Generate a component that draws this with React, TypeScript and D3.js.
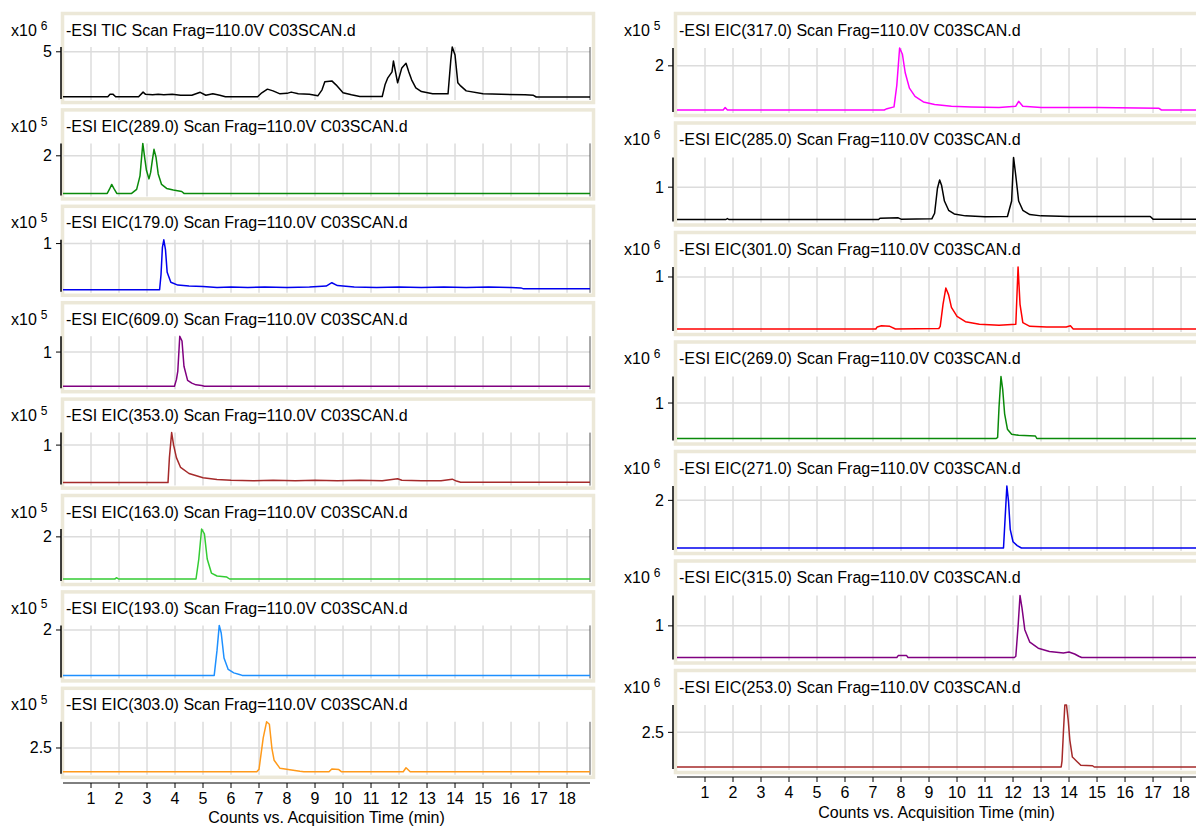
import React from "react";
import * as d3 from "d3";

const W = 1196;
const H = 828;
const FONT = '"Liberation Sans", Arial, sans-serif';
const FS = 16;
const T_MAX = 18.82;
const X_TICKS = d3.range(1, 19);
const X_TITLE = "Counts vs. Acquisition Time (min)";

// ---- traces: [time (min), intensity (x10^exp)] ----
const TIC: [number, number][] = [
  [0, 0.3], [1.6, 0.3], [1.68, 0.56], [1.78, 0.58], [1.88, 0.3], [2.7, 0.3], [2.86, 0.79],
  [2.95, 0.56], [3.2, 0.51], [3.4, 0.56], [3.6, 0.51], [3.9, 0.56], [4.2, 0.46], [4.6, 0.46],
  [4.9, 0.77], [5.1, 0.46], [5.35, 0.61], [5.6, 0.46], [5.8, 0.3], [6.95, 0.3], [7.1, 0.72],
  [7.3, 1.1], [7.5, 0.92], [7.75, 0.61], [8.0, 0.66], [8.15, 0.79], [8.4, 0.61], [8.8, 0.56],
  [9.1, 0.4], [9.25, 1.03], [9.35, 1.86], [9.6, 1.96], [9.75, 1.55], [10.0, 0.72], [10.3, 0.51],
  [10.6, 0.33], [11.4, 0.33], [11.5, 1.55], [11.6, 2.28], [11.75, 2.9], [11.8, 4.04], [11.95, 1.76],
  [12.1, 3.32], [12.25, 3.8], [12.35, 2.9], [12.45, 2.07], [12.6, 1.24], [12.8, 0.85], [13.2, 0.61],
  [13.75, 0.61], [13.85, 4.15], [13.9, 5.5], [14.0, 4.67], [14.1, 1.76], [14.2, 1.44], [14.4, 0.92],
  [15.0, 0.61], [16.5, 0.51], [16.8, 0.46], [16.9, 0.28], [18.82, 0.28],
];
const EIC289: [number, number][] = [
  [0, 0.03], [1.58, 0.03], [1.66, 0.25], [1.74, 0.5], [1.82, 0.28], [1.92, 0.03], [2.45, 0.03],
  [2.63, 0.24], [2.75, 0.95], [2.85, 2.65], [2.93, 1.76], [2.98, 1.24], [3.07, 0.79], [3.13, 1.13],
  [3.19, 1.76], [3.25, 2.34], [3.32, 1.94], [3.4, 1.05], [3.52, 0.5], [3.7, 0.29], [3.94, 0.21],
  [4.24, 0.13], [4.32, 0.03], [18.82, 0.03],
];
const EIC179: [number, number][] = [
  [0, 0.02], [3.45, 0.02], [3.5, 0.34], [3.55, 0.92], [3.6, 1.08], [3.66, 0.87], [3.72, 0.39],
  [3.85, 0.18], [4.1, 0.12], [4.5, 0.1], [5.0, 0.09], [5.5, 0.07], [6.0, 0.08], [6.6, 0.07],
  [7.2, 0.08], [8.0, 0.07], [8.8, 0.08], [9.4, 0.1], [9.6, 0.17], [9.8, 0.11], [10.4, 0.08],
  [11.2, 0.07], [12.0, 0.08], [12.8, 0.07], [13.6, 0.08], [14.4, 0.07], [15.2, 0.08], [16.0, 0.07],
  [16.35, 0.06], [16.45, 0.04], [18.82, 0.04],
];
const EIC609: [number, number][] = [
  [0, 0.01], [3.98, 0.01], [4.05, 0.2], [4.1, 0.45], [4.17, 1.46], [4.25, 1.32], [4.32, 0.59],
  [4.45, 0.18], [4.6, 0.1], [4.75, 0.05], [4.95, 0.03], [5.05, 0.01], [18.82, 0.01],
];
const EIC353: [number, number][] = [
  [0, 0.01], [3.75, 0.01], [3.8, 0.67], [3.88, 1.33], [3.95, 1.0], [4.05, 0.67], [4.2, 0.41],
  [4.5, 0.25], [5.0, 0.14], [5.5, 0.09], [6.0, 0.07], [6.8, 0.06], [7.5, 0.07], [8.3, 0.06],
  [9.0, 0.07], [9.8, 0.06], [10.6, 0.07], [11.4, 0.06], [11.95, 0.11], [12.1, 0.07], [12.8, 0.06],
  [13.5, 0.06], [13.9, 0.1], [14.05, 0.05], [14.2, 0.02], [18.82, 0.02],
];
const EIC163: [number, number][] = [
  [0, 0.02], [1.85, 0.02], [1.92, 0.08], [1.98, 0.02], [4.75, 0.02], [4.85, 0.96], [4.95, 2.37],
  [5.05, 2.14], [5.15, 0.96], [5.3, 0.3], [5.5, 0.16], [5.85, 0.11], [5.95, 0.02], [18.82, 0.02],
];
const EIC193: [number, number][] = [
  [0, 0.02], [5.4, 0.02], [5.5, 1.11], [5.58, 2.2], [5.65, 1.87], [5.75, 0.78], [5.9, 0.28],
  [6.1, 0.13], [6.3, 0.06], [6.4, 0.02], [18.82, 0.02],
];
const EIC303: [number, number][] = [
  [0, 0.02], [6.92, 0.02], [7.0, 0.28], [7.15, 3.56], [7.27, 5.23], [7.37, 4.97], [7.46, 2.47],
  [7.54, 1.22], [7.75, 0.38], [8.1, 0.23], [8.46, 0.07], [8.6, 0.02], [9.5, 0.02], [9.6, 0.31],
  [9.85, 0.25], [9.95, 0.02], [12.15, 0.02], [12.25, 0.44], [12.4, 0.02], [18.82, 0.02],
];
const EIC317: [number, number][] = [
  [0, 0.02], [1.65, 0.02], [1.72, 0.13], [1.8, 0.02], [7.4, 0.02], [7.5, 0.08], [7.75, 0.16],
  [7.85, 1.13], [7.95, 2.8], [8.05, 2.52], [8.15, 1.69], [8.3, 1.0], [8.5, 0.63], [8.8, 0.38],
  [9.2, 0.27], [9.8, 0.19], [10.5, 0.16], [11.5, 0.13], [12.1, 0.19], [12.2, 0.41], [12.35, 0.19],
  [13.0, 0.13], [15.0, 0.13], [17.2, 0.1], [17.3, 0.02], [18.82, 0.02],
];
const EIC285: [number, number][] = [
  [0, 0.02], [1.75, 0.02], [1.8, 0.05], [1.85, 0.02], [7.2, 0.02], [7.25, 0.06], [7.9, 0.07],
  [8.0, 0.03], [9.1, 0.04], [9.2, 0.21], [9.3, 0.96], [9.38, 1.22], [9.45, 1.05], [9.55, 0.58],
  [9.7, 0.3], [9.9, 0.19], [10.3, 0.13], [11.0, 0.1], [11.8, 0.11], [11.95, 0.58], [12.02, 1.9],
  [12.1, 1.34], [12.2, 0.58], [12.35, 0.3], [12.6, 0.17], [13.0, 0.13], [14.0, 0.11], [16.9, 0.11],
  [17.0, 0.03], [18.82, 0.03],
];
const EIC301: [number, number][] = [
  [0, 0.01], [7.1, 0.01], [7.15, 0.05], [7.3, 0.07], [7.6, 0.06], [7.8, 0.01], [9.35, 0.02],
  [9.4, 0.06], [9.5, 0.48], [9.6, 0.79], [9.7, 0.66], [9.8, 0.42], [10.0, 0.25], [10.3, 0.15],
  [10.8, 0.1], [11.5, 0.08], [12.1, 0.1], [12.18, 1.19], [12.25, 0.48], [12.35, 0.13], [12.6, 0.06],
  [13.2, 0.05], [13.9, 0.05], [14.05, 0.07], [14.15, 0.01], [18.82, 0.01],
];
const EIC269: [number, number][] = [
  [0, 0.01], [11.4, 0.01], [11.45, 0.04], [11.5, 0.88], [11.57, 1.74], [11.63, 1.39], [11.7, 0.7],
  [11.8, 0.27], [11.95, 0.13], [12.2, 0.1], [12.8, 0.08], [12.85, 0.01], [18.82, 0.01],
];
const EIC271: [number, number][] = [
  [0, 0.01], [11.66, 0.01], [11.72, 1.31], [11.78, 2.6], [11.84, 1.95], [11.9, 0.79], [12.0, 0.27],
  [12.15, 0.11], [12.3, 0.01], [18.82, 0.01],
];
const EIC315: [number, number][] = [
  [0, 0.01], [7.85, 0.01], [7.9, 0.07], [8.2, 0.07], [8.25, 0.01], [12.05, 0.01], [12.1, 0.05],
  [12.18, 0.98], [12.25, 1.95], [12.32, 1.56], [12.42, 0.88], [12.6, 0.49], [12.9, 0.3], [13.3, 0.2],
  [13.8, 0.15], [14.0, 0.18], [14.2, 0.12], [14.35, 0.05], [14.45, 0.01], [18.82, 0.01],
];
const EIC253: [number, number][] = [
  [0, 0.02], [13.72, 0.02], [13.75, 0.46], [13.8, 2.55], [13.85, 4.46], [13.91, 4.46], [13.97, 3.39],
  [14.03, 1.93], [14.12, 0.73], [14.3, 0.38], [14.42, 0.15], [14.84, 0.11], [14.9, 0.02], [18.82, 0.02],
];

// ---- panel labels ----
const LEFT_TITLES = [
  "-ESI TIC Scan Frag=110.0V C03SCAN.d",
  "-ESI EIC(289.0) Scan Frag=110.0V C03SCAN.d",
  "-ESI EIC(179.0) Scan Frag=110.0V C03SCAN.d",
  "-ESI EIC(609.0) Scan Frag=110.0V C03SCAN.d",
  "-ESI EIC(353.0) Scan Frag=110.0V C03SCAN.d",
  "-ESI EIC(163.0) Scan Frag=110.0V C03SCAN.d",
  "-ESI EIC(193.0) Scan Frag=110.0V C03SCAN.d",
  "-ESI EIC(303.0) Scan Frag=110.0V C03SCAN.d",
];
const LEFT_EXP = [6, 5, 5, 5, 5, 5, 5, 5];
const LEFT_TICKS = [[5], [2], [1], [1], [1], [2], [2], [2.5]];
const LEFT_SERIES = [TIC, EIC289, EIC179, EIC609, EIC353, EIC163, EIC193, EIC303];
const LEFT_COLORS = ["#000000", "#0a8a0a", "#0000ee", "#800080", "#a52a2a", "#33cc33", "#1e90ff", "#ff9a1a"];

const RIGHT_TITLES = [
  "-ESI EIC(317.0) Scan Frag=110.0V C03SCAN.d",
  "-ESI EIC(285.0) Scan Frag=110.0V C03SCAN.d",
  "-ESI EIC(301.0) Scan Frag=110.0V C03SCAN.d",
  "-ESI EIC(269.0) Scan Frag=110.0V C03SCAN.d",
  "-ESI EIC(271.0) Scan Frag=110.0V C03SCAN.d",
  "-ESI EIC(315.0) Scan Frag=110.0V C03SCAN.d",
  "-ESI EIC(253.0) Scan Frag=110.0V C03SCAN.d",
];
const RIGHT_EXP = [5, 6, 6, 6, 6, 6, 6];
const RIGHT_TICKS = [[2], [1], [1], [1], [2], [1], [2.5]];
const RIGHT_SERIES = [EIC317, EIC285, EIC301, EIC269, EIC271, EIC315, EIC253];
const RIGHT_COLORS = ["#ff00ff", "#000000", "#ff0000", "#0a8a0a", "#0000ee", "#800080", "#a52a2a"];

type Col = {
  titles: string[];
  exps: number[];
  ticks: number[][];
  series: [number, number][][];
  colors: string[];
  plotX0: number;
  plotX1: number;
  axisX: number;
  frameX: number;
  frameW: number;
  expX: number;
  top0: number;
  period: number;
  frameH: number;
  plotTopOff: number;
  baseOff: number;
  bottomPad: number;
  xAxisY: number;
  xLabelY: number;
  xTitleY: number;
  titleShift: number;
};

const LEFT: Col = {
  titles: LEFT_TITLES, exps: LEFT_EXP, ticks: LEFT_TICKS, series: LEFT_SERIES, colors: LEFT_COLORS,
  plotX0: 63, plotX1: 590, axisX: 61, frameX: 61, frameW: 534, expX: 11,
  top0: 12, period: 96.4, frameH: 92, plotTopOff: 35, baseOff: 85, bottomPad: 3,
  xAxisY: 783, xLabelY: 804, xTitleY: 823, titleShift: 0,
};
const RIGHT: Col = {
  titles: RIGHT_TITLES, exps: RIGHT_EXP, ticks: RIGHT_TICKS, series: RIGHT_SERIES, colors: RIGHT_COLORS,
  plotX0: 677, plotX1: 1204, axisX: 673, frameX: 674, frameW: 540, expX: 624,
  top0: 12, period: 109.5, frameH: 105, plotTopOff: 36, baseOff: 98, bottomPad: 3,
  xAxisY: 777, xLabelY: 798, xTitleY: 818, titleShift: -4,
};

function Column({ c }: { c: Col }) {
  const x = d3.scaleLinear().domain([0, T_MAX]).range([c.plotX0, c.plotX1]);
  const line = d3.line<[number, number]>();
  return (
    <g>
      {c.series.map((data, i) => {
        const top = c.top0 + c.period * i;
        const pTop = top + c.plotTopOff;
        const pBase = top + c.baseOff;
        const pBot = pBase + c.bottomPad;
        const [mn, mx] = d3.extent(data, (d) => d[1]) as [number, number];
        const span = mx - mn;
        const y = d3
          .scaleLinear()
          .domain([mn - (span * c.bottomPad) / (pBase - pTop), mx])
          .range([pBot, pTop]);
        line.x((d) => x(d[0])).y((d) => y(d[1]));
        const titleY = top + 23.5;
        return (
          <g key={i}>
            <rect x={c.frameX + 1.5} y={top + 1.5} width={c.frameW - 3} height={c.frameH - 3}
              fill="#fff" stroke="#ece8d8" strokeWidth={3.5} />
            {X_TICKS.map((t) => (
              <line key={t} x1={x(t)} x2={x(t)} y1={pTop} y2={pBot} stroke="#dcdcdc" strokeWidth={1.5} />
            ))}
            {c.ticks[i].map((v) => (
              <line key={v} x1={c.plotX0} x2={c.plotX1} y1={y(v)} y2={y(v)} stroke="#dcdcdc" strokeWidth={1.5} />
            ))}
            <line x1={c.plotX1} x2={c.plotX1} y1={pTop} y2={pBot} stroke="#555" strokeWidth={1} />
            <path d={line(data) || ""} fill="none" stroke={c.colors[i]} strokeWidth={1.5} strokeLinejoin="round" />
            <line x1={c.axisX} x2={c.axisX} y1={pTop} y2={pBot - 1} stroke="#000" strokeWidth={1.5} />
            {c.ticks[i].map((v) => (
              <g key={v}>
                <line x1={c.axisX - 5} x2={c.axisX} y1={y(v)} y2={y(v)} stroke="#000" strokeWidth={1} />
                <text x={c.axisX - 9} y={y(v) + 5.5} textAnchor="end" fontSize={FS} fill="#000">
                  {v}
                </text>
              </g>
            ))}
            <text x={c.expX} y={titleY} fontSize={FS} fill="#000">
              x10
              <tspan dx={4} dy={-6} fontSize={12}>{c.exps[i]}</tspan>
            </text>
            <text x={c.frameX + 5} y={titleY} fontSize={FS} fill="#000">
              {c.titles[i]}
            </text>
          </g>
        );
      })}
      <line x1={c.plotX0} x2={Math.min(c.plotX1, W)} y1={c.xAxisY} y2={c.xAxisY} stroke="#000" strokeWidth={1} />
      {X_TICKS.map((t) => (
        <g key={t}>
          <line x1={x(t)} x2={x(t)} y1={c.xAxisY} y2={c.xAxisY + 5} stroke="#000" strokeWidth={1} />
          <text x={x(t)} y={c.xLabelY} textAnchor="middle" fontSize={FS} fill="#000">
            {t}
          </text>
        </g>
      ))}
      <text x={(c.plotX0 + c.plotX1) / 2 + c.titleShift} y={c.xTitleY} textAnchor="middle" fontSize={FS} fill="#000">
        {X_TITLE}
      </text>
    </g>
  );
}

export default function App() {
  return (
    <div style={{ position: "absolute", left: 0, top: 0 }}>
      <svg width={W} height={H} style={{ display: "block", fontFamily: FONT, background: "#fff" }}>
        <Column c={LEFT} />
        <Column c={RIGHT} />
      </svg>
    </div>
  );
}
